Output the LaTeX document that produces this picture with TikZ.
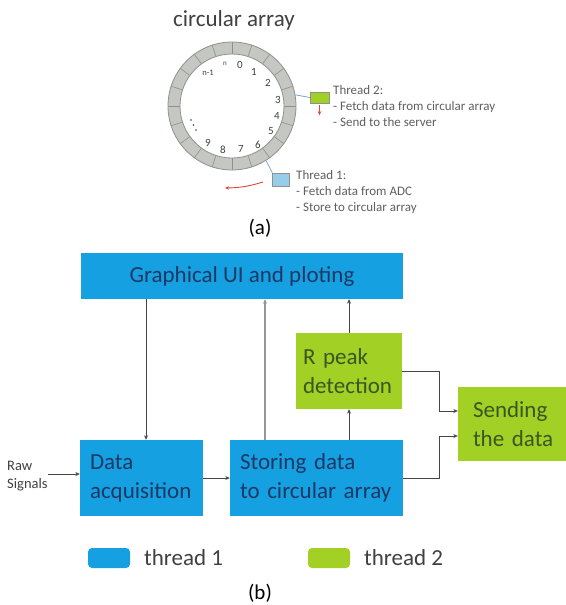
\documentclass[tikz,border=0pt]{standalone}
\usepackage{fontspec}
\setmainfont{Carlito}
\usetikzlibrary{arrows.meta,calc}
\definecolor{boxblue}{RGB}{20,160,225}
\definecolor{boxgreen}{RGB}{163,208,36}
\definecolor{navytext}{RGB}{31,56,100}
\definecolor{greentext}{RGB}{56,87,35}
\definecolor{ringfill}{RGB}{196,199,194}
\definecolor{ringedge}{RGB}{140,146,140}
\definecolor{linegray}{RGB}{70,70,70}
\definecolor{lightline}{RGB}{150,150,150}
\definecolor{desctext}{RGB}{95,95,95}
\definecolor{titlegray}{RGB}{64,64,64}
\definecolor{thinblue}{RGB}{120,165,210}
\definecolor{tonefill}{RGB}{150,205,235}
\definecolor{arrred}{RGB}{220,70,60}
\begin{document}
\begin{tikzpicture}[x=1pt,y=-1pt,
  bigfont/.style={font=\fontsize{23}{29}\selectfont},
  bluebox/.style={fill=boxblue, text=navytext, bigfont, inner ysep=0pt},
  greenbox/.style={fill=boxgreen, text=greentext, bigfont, inner ysep=0pt},
  conn/.style={draw=linegray, line width=1pt, -{Stealth[length=4.5pt,width=4pt]}},
  connlight/.style={draw=lightline, line width=1.6pt, -{Stealth[length=4.5pt,width=4pt]}},
  desc/.style={font=\fontsize{13}{16}\selectfont, text=desctext, align=left, inner sep=0pt},
  numfont/.style={font=\fontsize{11}{11}\selectfont, text=titlegray, inner sep=0pt},
  redarr/.style={draw=arrred, line width=0.9pt, -{Stealth[length=4pt,width=3.5pt]}},
  legbox/.style={minimum width=42pt, minimum height=20pt, inner sep=0pt, rounded corners=4pt},
  legtext/.style={font=\fontsize{23}{23}\selectfont, text=titlegray, inner sep=0pt, anchor=west},
  labelfont/.style={font=\fontsize{21}{21}\selectfont, inner sep=0pt}
]
\useasboundingbox (0,0) rectangle (565,605);

% ---------- (a) circular array ----------
\node[font=\fontsize{23}{28}\selectfont, text=titlegray, inner sep=0pt] (title) at (234,20) {circular array};
\node[circle, minimum size=128pt, inner sep=0pt, fill=ringfill, draw=ringedge, line width=0.8pt] (ring) at (232,106) {};
\node[circle, minimum size=104pt, inner sep=0pt, fill=white, draw=ringedge, line width=0.8pt] (hole) at (ring.center) {};
\foreach \a in {0,18,...,342} \draw[ringedge, line width=0.6pt] (hole.\a) -- (ring.\a);

\node[numfont, font=\fontsize{7}{7}\selectfont] (nn) at (225,64) {n};
\node[numfont] (n0) at (240,65) {0};
\node[numfont] (n1) at (254,72) {1};
\node[numfont] (n2) at (268,83) {2};
\node[numfont] (n3) at (278,100) {3};
\node[numfont] (n4) at (277,116) {4};
\node[numfont] (n5) at (271,131) {5};
\node[numfont] (n6) at (258,145) {6};
\node[numfont] (n7) at (241,149) {7};
\node[numfont] (n8) at (223,150) {8};
\node[numfont] (n9) at (208,143) {9};
\node[numfont, font=\fontsize{8.5}{8.5}\selectfont] (nm) at (208,73) {n-1};
\foreach \p in {(191,120),(193.5,125),(196,130)} \fill[titlegray] \p circle (0.9pt);

\node[draw=ringedge, fill=boxgreen, minimum width=19pt, minimum height=11pt, inner sep=0pt] (t2) at (319.5,97.5) {};
\draw[thinblue, line width=0.8pt] (ring.10) -- (t2.west);
\draw[redarr] ([yshift=-2pt]t2.south) -- ++(0,10);
\node[desc, anchor=north west] (t2d) at (333,85) {Thread 2:\\- Fetch data from circular array\\- Send to the server};

\node[draw=ringedge, fill=tonefill, minimum width=17pt, minimum height=13pt, inner sep=0pt] (t1) at (281,179.5) {};
\draw[thinblue, line width=0.8pt] (ring.-58) -- (t1.north west);
\node[desc, anchor=north west] (t1d) at (296,170) {Thread 1:\\- Fetch data from ADC\\- Store to circular array};
\coordinate (r1) at (263,182);
\coordinate (r2) at (225,188);
\draw[redarr] (r1) to[bend left=8] (r2);

\node[labelfont] (la) at (260,228) {(a)};

% ---------- (b) block diagram ----------
\node[bluebox, minimum width=322pt, minimum height=46pt, inner xsep=0pt] (gui) at (242,276) {Graphical UI and ploting};
\node[bluebox, minimum height=76pt, inner xsep=10pt, text width=103pt, align=left] (da) at (141.5,478) {Data\\acquisition};
\node[bluebox, minimum height=76pt, inner xsep=10pt, text width=153pt, align=left] (st) at (316.5,478) {Storing data\\to circular array};
\node[greenbox, minimum height=76pt, inner xsep=7pt, text width=92pt, align=left] (rp) at (349,371) {R peak\\detection};
\node[greenbox, minimum height=74pt, inner xsep=15pt, text width=95pt, align=left] (sd) at (520.5,424) {Sending\\the data};

\node[font=\fontsize{14.5}{18}\selectfont, text=titlegray, align=left, inner sep=0pt, anchor=west] (raw) at (7,476) {Raw\\Signals};
\coordinate (rawc) at (48,474);
\draw[conn] (rawc) -- (rawc -| da.west);
\draw[conn] (da.east) -- (st.west);

\coordinate (xg) at (146,0);
\coordinate (xs) at (265,0);
\draw[conn] (gui.south -| xg) -- (da.north -| xg);
\draw[connlight] (st.north -| xs) -- (gui.south -| xs);
\draw[conn] (st.north -| rp.south) -- (rp.south);
\draw[conn] (rp.north) -- (gui.south -| rp.north);
\draw[conn] (rp.east) -- ++(37,0) |- ([yshift=13pt]sd.west);
\draw[conn] (st.east) -- ++(36,0) |- ([yshift=-12pt]sd.west);

% legend
\node[legbox, fill=boxblue] (l1) at (109,558) {};
\node[legtext] (l1t) at (144,558) {thread 1};
\node[legbox, fill=boxgreen] (l2) at (329,558) {};
\node[legtext] (l2t) at (364,558) {thread 2};

\node[labelfont] (lb) at (260,593) {(b)};
\end{tikzpicture}
\end{document}
